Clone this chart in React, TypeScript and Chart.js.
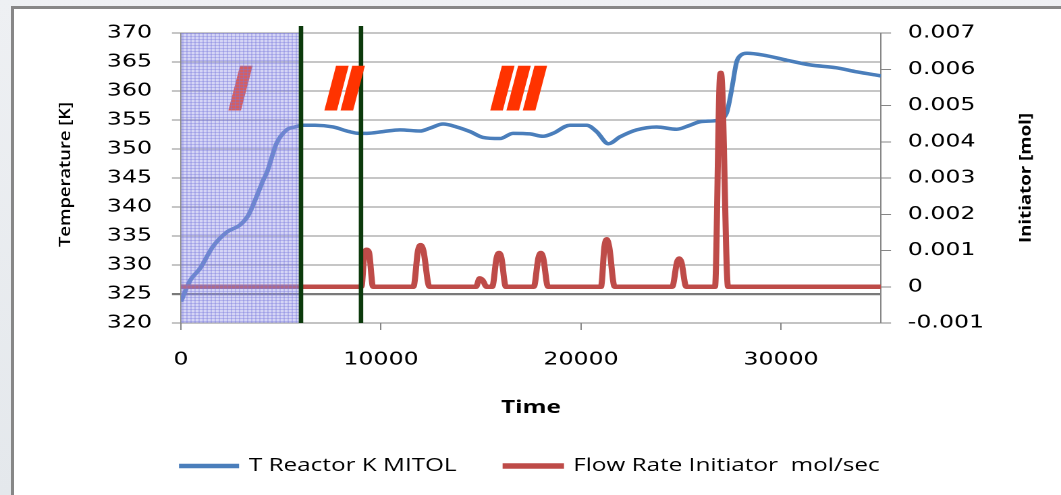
import React, { useEffect, useRef } from "react";
import { Chart, registerables } from "chart.js";

Chart.register(...registerables);

// ---------- data ----------
const tempTime = [0, 450, 950, 1600, 2300, 2950, 3370, 3780, 4120, 4300, 4780, 5280, 5700, 6100, 6700, 7600, 8400, 8900, 9300, 10100, 10950, 11950, 12450, 13100, 13780, 14450, 15100, 15950, 16600, 17450, 18100, 18600, 19450, 20280, 20780, 21370, 21950, 22780, 23780, 24780, 25450, 25950, 26780, 27100, 27300, 27530, 27780, 28000, 28300, 29100, 30300, 31450, 32780, 33780, 35000];
const tempValue = [323.7, 327.3, 329.4, 333.2, 335.7, 336.9, 338.6, 341.8, 344.7, 346.0, 351.0, 353.3, 353.8, 354.1, 354.1, 353.8, 353.0, 352.7, 352.7, 353.0, 353.3, 353.1, 353.6, 354.3, 353.8, 353.0, 352.0, 351.8, 352.7, 352.6, 352.2, 352.7, 354.1, 354.1, 353.0, 350.9, 352.1, 353.3, 353.8, 353.4, 354.1, 354.7, 354.9, 355.3, 356.4, 360.2, 365.0, 366.2, 366.5, 366.2, 365.3, 364.5, 364.0, 363.3, 362.6];

const flowTime = [0, 9020, 9180, 9280, 9400, 9600, 11620, 11850, 11980, 12120, 12420, 14750, 14930, 15080, 15280, 15560, 15780, 15900, 16020, 16240, 17640, 17870, 17990, 18110, 18350, 21000, 21170, 21290, 21410, 21680, 24560, 24800, 24910, 25020, 25260, 26700, 26920, 26990, 27060, 27350, 35000];
const flowRate = [0, 0, 0.00095, 0.00102, 0.00095, 0, 0, 0.001, 0.00115, 0.001, 0, 0, 0.00023, 0.00018, 0, 0, 0.0008, 0.00093, 0.0008, 0, 0, 0.0008, 0.00093, 0.0008, 0, 0, 0.0011, 0.00131, 0.0011, 0, 0, 0.00068, 0.00078, 0.00068, 0, 0, 0.0055, 0.0059, 0.0055, 0, 0];

const seriesNames = ["T Reactor K MITOL", "Flow Rate Initiator  mol/sec"];
const axisTitles = ["Time", "Temperature [K]", "Initiator [mol]"];

const timeTicks = [0, 10000, 20000, 30000];
const tempTicks = [320, 325, 330, 335, 340, 345, 350, 355, 360, 365, 370];
const initiatorTicks = [-0.001, 0, 0.001, 0.002, 0.003, 0.004, 0.005, 0.006, 0.007];

// phase annotations (in data units)
const phaseBounds = [6000, 9000];
const phaseShade = [0, 6000];
const phaseNames = ["I", "II", "III"];
const phaseLabelTime = [2700, 7900, 16600];
const phaseLabelBaseTemp = 356.6;

// ---------- layout helpers ----------
const PAGE_W = 1061;
const PAGE_H = 495;
const CANVAS_W = 786;
const SX = PAGE_W / CANVAS_W;
const toInt = (p: number) => p / SX;

const BLUE = "#4a7ebb";
const RED = "#be4b48";
const GRID = "#8c8c8c";
const AXIS = "#868686";

let shadePattern: CanvasPattern | null = null;
function getPattern(ctx: CanvasRenderingContext2D) {
  if (shadePattern) return shadePattern;
  const c = document.createElement("canvas");
  c.width = 6;
  c.height = 6;
  const g = c.getContext("2d")!;
  g.fillStyle = "rgba(155,155,232,0.42)";
  g.fillRect(0, 0, 6, 6);
  g.fillStyle = "rgba(120,120,220,0.36)";
  g.fillRect(0, 0, 6, 2);
  g.fillRect(0, 0, 2, 6);
  const p = ctx.createPattern(c, "repeat")!;
  try {
    p.setTransform(new DOMMatrix([0.5, 0, 0, 0.5, 0, 0]));
  } catch (e) {}
  shadePattern = p;
  return p;
}

function drawRotatedTitle(
  ctx: CanvasRenderingContext2D,
  text: string,
  cxPage: number,
  cyPage: number,
  lenPage: number,
  emPage: number,
  weight: string
) {
  const fs = 16;
  ctx.save();
  ctx.font = `${weight} ${fs}px "Open Sans"`;
  const w = ctx.measureText(text).width;
  ctx.translate(toInt(cxPage), cyPage);
  ctx.rotate(-Math.PI / 2);
  ctx.scale(lenPage / w, emPage / (fs * SX));
  ctx.textAlign = "center";
  ctx.textBaseline = "middle";
  ctx.fillStyle = "#000";
  ctx.fillText(text, 0, 0);
  ctx.restore();
}

function drawRoman(ctx: CanvasRenderingContext2D, text: string, x: number, y: number) {
  ctx.save();
  ctx.font = 'italic bold 65px "Liberation Sans"';
  (ctx as any).letterSpacing = "-6px";
  ctx.textAlign = "center";
  ctx.textBaseline = "alphabetic";
  ctx.fillStyle = "#ff3300";
  ctx.fillText(text, x, y);
  ctx.restore();
}

const decorPlugin = {
  id: "decor",
  afterDatasetsDraw(chart: any) {
    const { ctx, chartArea: a, scales } = chart;
    const x = scales.x;
    const y = scales.y;
    const baseY = y.getPixelForValue(phaseLabelBaseTemp);

    // phase I label (under the shading)
    drawRoman(ctx, phaseNames[0], x.getPixelForValue(phaseLabelTime[0]), baseY);

    // shaded phase I
    ctx.save();
    const x0 = x.getPixelForValue(phaseShade[0]);
    const x1 = x.getPixelForValue(phaseShade[1]);
    ctx.fillStyle = getPattern(ctx);
    ctx.fillRect(x0, a.top, x1 - x0, a.bottom - a.top);
    ctx.restore();

    // phase boundaries
    ctx.save();
    ctx.strokeStyle = "#0c3a0c";
    ctx.lineWidth = 3.3;
    phaseBounds.forEach((b) => {
      const px = x.getPixelForValue(b);
      ctx.beginPath();
      ctx.moveTo(px, a.top - 7);
      ctx.lineTo(px, a.bottom);
      ctx.stroke();
    });
    ctx.restore();

    // phase II, III labels
    for (let i = 1; i < phaseNames.length; i++) {
      drawRoman(ctx, phaseNames[i], x.getPixelForValue(phaseLabelTime[i]), baseY);
    }
  },
  afterDraw(chart: any) {
    const ctx = chart.ctx;
    drawRotatedTitle(ctx, axisTitles[1], 65.5, 174.5, 145, 16.2, "600");
    drawRotatedTitle(ctx, axisTitles[2], 1026, 178, 130, 16.2, "700");
  },
};

const tickFont = { family: '"DejaVu Sans"', size: 17.5 };

export default function App() {
  const ref = useRef<HTMLCanvasElement>(null);

  useEffect(() => {
    const canvas = ref.current!;
    const chart = new Chart(canvas, {
      type: "line",
      data: {
        datasets: [
          {
            label: seriesNames[0],
            data: tempTime.map((t, i) => ({ x: t, y: tempValue[i] })),
            yAxisID: "y",
            borderColor: BLUE,
            backgroundColor: BLUE,
            borderWidth: 3.5,
            pointRadius: 0,
            fill: false,
            order: 1,
            cubicInterpolationMode: "monotone",
          },
          {
            label: seriesNames[1],
            data: flowTime.map((t, i) => ({ x: t, y: flowRate[i] })),
            yAxisID: "y1",
            borderColor: RED,
            backgroundColor: RED,
            borderWidth: 4.5,
            pointRadius: 0,
            fill: false,
            order: 0,
            cubicInterpolationMode: "monotone",
          },
        ],
      },
      options: {
        responsive: false,
        animation: false,
        devicePixelRatio: 2,
        events: [],
        layout: { padding: { top: 33, left: 0, right: 0, bottom: 10 } },
        plugins: {
          legend: {
            position: "bottom",
            labels: {
              font: { family: '"Open Sans"', size: 18 },
              color: "#000",
              boxWidth: 41,
              boxHeight: 1,
              padding: 36.3,
              sort: (a: any, b: any) => a.datasetIndex - b.datasetIndex,
            },
          },
          tooltip: { enabled: false },
        },
        scales: {
          x: {
            type: "linear",
            min: 0,
            max: 35000,
            afterBuildTicks: (s: any) => {
              s.ticks = timeTicks.map((v) => ({ value: v }));
            },
            afterFit: (s: any) => {
              s.height = 97.7;
            },
            grid: { drawOnChartArea: false, drawTicks: true, tickLength: 7, color: AXIS },
            border: { color: AXIS, width: 1 },
            ticks: {
              font: tickFont,
              color: "#000",
              padding: 19.5,
              maxRotation: 0,
              autoSkip: false,
              callback: (v: any) => String(v),
            },
            title: {
              display: true,
              text: axisTitles[0],
              color: "#000",
              font: { family: '"Open Sans"', size: 18, weight: "bold", lineHeight: 1.2 },
              padding: { top: 0, bottom: 1.9 },
            },
          },
          y: {
            position: "left",
            min: 320,
            max: 370,
            afterBuildTicks: (s: any) => {
              s.ticks = tempTicks.map((v) => ({ value: v }));
            },
            afterFit: (s: any) => {
              s.width = toInt(181);
            },
            grid: {
              color: (c: any) => (c.tick && c.tick.value === 325 ? "#7a7a7a" : GRID),
              lineWidth: (c: any) => (c.tick && c.tick.value === 325 ? 2.2 : 1),
              tickLength: 6.7,
            },
            border: { color: AXIS, width: 1 },
            ticks: {
              font: tickFont,
              color: "#000",
              padding: 14.8,
              autoSkip: false,
              callback: (v: any) => String(v),
            },
          },
          y1: {
            position: "right",
            min: -0.001,
            max: 0.007,
            afterBuildTicks: (s: any) => {
              s.ticks = initiatorTicks.map((v) => ({ value: v }));
            },
            afterFit: (s: any) => {
              s.width = CANVAS_W - toInt(881);
            },
            grid: { drawOnChartArea: false, tickLength: 7.4, color: AXIS },
            border: { color: AXIS, width: 1 },
            ticks: {
              font: tickFont,
              color: "#000",
              padding: 12.5,
              autoSkip: false,
              callback: (v: any) => (Math.abs(v) < 1e-12 ? "0" : Number(v).toFixed(3)),
            },
          },
        },
      } as any,
      plugins: [decorPlugin],
    } as any);
    return () => chart.destroy();
  }, []);

  return (
    <div
      style={{
        position: "fixed",
        left: 0,
        top: 0,
        width: PAGE_W,
        height: PAGE_H,
        overflow: "hidden",
        background: "linear-gradient(180deg, #eef0f3 0%, #e4e8ec 100%)",
      }}
    >
      <div
        style={{
          position: "absolute",
          left: 11,
          top: 6,
          width: PAGE_W,
          height: PAGE_H,
          background: "#ffffff",
          borderLeft: "3px solid #878787",
          borderTop: "3px solid #878787",
        }}
      />
      <canvas
        ref={ref}
        width={CANVAS_W}
        height={PAGE_H}
        style={{ position: "absolute", left: 0, top: 0, width: PAGE_W + "px", height: PAGE_H + "px" }}
      />
    </div>
  );
}
